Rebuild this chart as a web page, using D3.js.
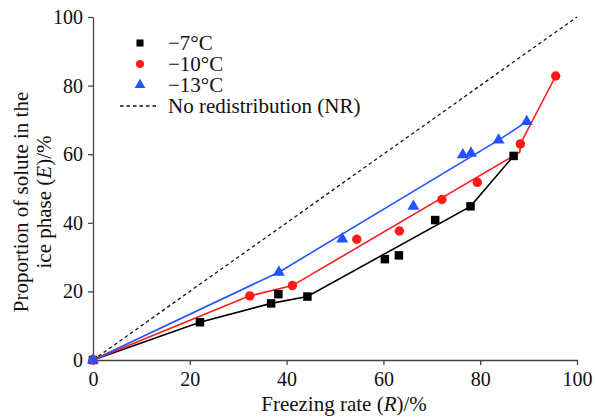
<!DOCTYPE html>
<html>
<head>
<meta charset="utf-8">
<script src="https://cdn.jsdelivr.net/npm/d3@7"></script>
<style>
  html, body { margin: 0; padding: 0; background: #fff; }
  svg { display: block; font-family: "Liberation Serif", "Times New Roman", serif; }
</style>
</head>
<body>
<svg id="chart" width="595" height="419"></svg>
<script>
// Measured points: freezing rate R (%) vs. solute proportion in ice E (%)
const seriesNames = ["\u22127\u00B0C", "\u221210\u00B0C", "\u221213\u00B0C"];
const colors = ["#000000", "#ff1a1a", "#2255ff"];
const shapes = ["square", "circle", "triangle"];

const pointsMinus7 = [
  [0, 0], [22.1, 11.0], [36.8, 16.5], [38.3, 19.2], [44.3, 18.5],
  [60.3, 29.4], [63.2, 30.5], [70.7, 40.8], [78.0, 44.8], [86.9, 59.5]
];
const pointsMinus10 = [
  [0, 0], [32.4, 18.7], [41.2, 21.7], [54.5, 35.2], [63.3, 37.6],
  [72.1, 46.8], [79.4, 51.8], [88.3, 63.0], [95.6, 82.8]
];
const pointsMinus13 = [
  [0, 0], [38.4, 25.6], [51.5, 35.3], [66.2, 44.8], [76.4, 59.8],
  [78.1, 60.3], [83.8, 64.1], [89.6, 69.5]
];

// Fitted trend lines
const lineMinus7 = [[0, 0], [22.1, 11.0], [36.8, 16.5], [44.3, 18.5], [78.0, 44.8], [86.9, 59.5]];
const lineMinus10 = [[0, 0], [32.4, 18.7], [41.2, 21.7], [88.2, 60.6], [88.3, 63.0], [95.6, 82.8]];
const lineMinus13 = [[0, 0], [38.4, 25.6], [83.8, 64.1], [89.6, 69.5]];

// No-redistribution reference: E = R
const lineNR = [[0, 0], [100, 100]];

const xTicks = [0, 20, 40, 60, 80, 100];
const yTicks = [0, 20, 40, 60, 80, 100];

const allPoints = [pointsMinus7, pointsMinus10, pointsMinus13];
const allLines = [lineMinus7, lineMinus10, lineMinus13];

const svg = d3.select("#chart");
const margin = { left: 93, right: 18, top: 17, bottom: 59 };
const W = 595, H = 419;

const x = d3.scaleLinear().domain([0, 100]).range([margin.left, W - margin.right]);
const y = d3.scaleLinear().domain([0, 100]).range([H - margin.bottom, margin.top]);

const axisColor = "#444";
const labelSize = "21px";

// Axes
const xAxis = svg.append("g")
  .attr("transform", `translate(0,${y(0)})`)
  .call(d3.axisBottom(x).tickValues(xTicks).tickSize(5).tickPadding(7).tickSizeOuter(0));
const yAxis = svg.append("g")
  .attr("transform", `translate(${x(0)},0)`)
  .call(d3.axisLeft(y).tickValues(yTicks).tickSize(5).tickPadding(5).tickSizeOuter(0));

[xAxis, yAxis].forEach(g => {
  g.selectAll("path.domain").attr("stroke", axisColor).attr("stroke-width", 1.3);
  g.selectAll(".tick line").attr("stroke", axisColor).attr("stroke-width", 1.3);
  g.selectAll(".tick text")
    .attr("fill", "#111")
    .style("font-family", "'Liberation Serif', serif")
    .style("font-size", "20px");
});

// Axis titles
const xt = svg.append("text")
  .attr("x", 344).attr("y", 411)
  .attr("text-anchor", "middle")
  .style("font-size", labelSize).attr("fill", "#111");
xt.append("tspan").text("Freezing rate (");
xt.append("tspan").style("font-style", "italic").text("R");
xt.append("tspan").text(")/%");

const yt = svg.append("g").attr("transform", "translate(0,202) rotate(-90)");
yt.append("text")
  .attr("x", 0).attr("y", 28)
  .attr("text-anchor", "middle")
  .style("font-size", labelSize).attr("fill", "#111")
  .text("Proportion of solute in the");
const yt2 = yt.append("text")
  .attr("x", 0).attr("y", 51)
  .attr("text-anchor", "middle")
  .style("font-size", labelSize).attr("fill", "#111");
yt2.append("tspan").text("ice phase (");
yt2.append("tspan").style("font-style", "italic").text("E");
yt2.append("tspan").text(")/%");

const line = d3.line().x(d => x(d[0])).y(d => y(d[1]));

// NR dashed diagonal
svg.append("path")
  .datum(lineNR)
  .attr("d", line)
  .attr("fill", "none")
  .attr("stroke", "#111")
  .attr("stroke-width", 1.3)
  .attr("stroke-dasharray", "3.5,3");

// Trend lines
allLines.forEach((pts, i) => {
  svg.append("path")
    .datum(pts)
    .attr("d", line)
    .attr("fill", "none")
    .attr("stroke", colors[i])
    .attr("stroke-width", 1.6);
});

const symbolFor = {
  square: d3.symbol().type(d3.symbolSquare).size(72),
  circle: d3.symbol().type(d3.symbolCircle).size(70),
  triangle: d3.symbol().type(d3.symbolTriangle).size(62)
};

// Markers
allPoints.forEach((pts, i) => {
  svg.append("g").selectAll("path")
    .data(pts)
    .join("path")
    .attr("transform", d => `translate(${x(d[0])},${y(d[1])})`)
    .attr("d", symbolFor[shapes[i]]())
    .attr("fill", colors[i]);
});

// Legend
const legendRows = [43, 64, 85];
const legend = svg.append("g");
seriesNames.forEach((name, i) => {
  legend.append("path")
    .attr("transform", `translate(140,${legendRows[i]})`)
    .attr("d", d3.symbol().type(
      shapes[i] === "square" ? d3.symbolSquare :
      shapes[i] === "circle" ? d3.symbolCircle : d3.symbolTriangle).size(50)())
    .attr("fill", colors[i]);
  legend.append("text")
    .attr("x", 168).attr("y", legendRows[i] + 7)
    .style("font-size", labelSize).attr("fill", "#111")
    .text(name);
});
legend.append("line")
  .attr("x1", 120).attr("x2", 157).attr("y1", 106).attr("y2", 106)
  .attr("stroke", "#111").attr("stroke-width", 1.3)
  .attr("stroke-dasharray", "3.5,3");
legend.append("text")
  .attr("x", 168).attr("y", 113)
  .style("font-size", labelSize).attr("fill", "#111")
  .text("No redistribution (NR)");
</script>
</body>
</html>
